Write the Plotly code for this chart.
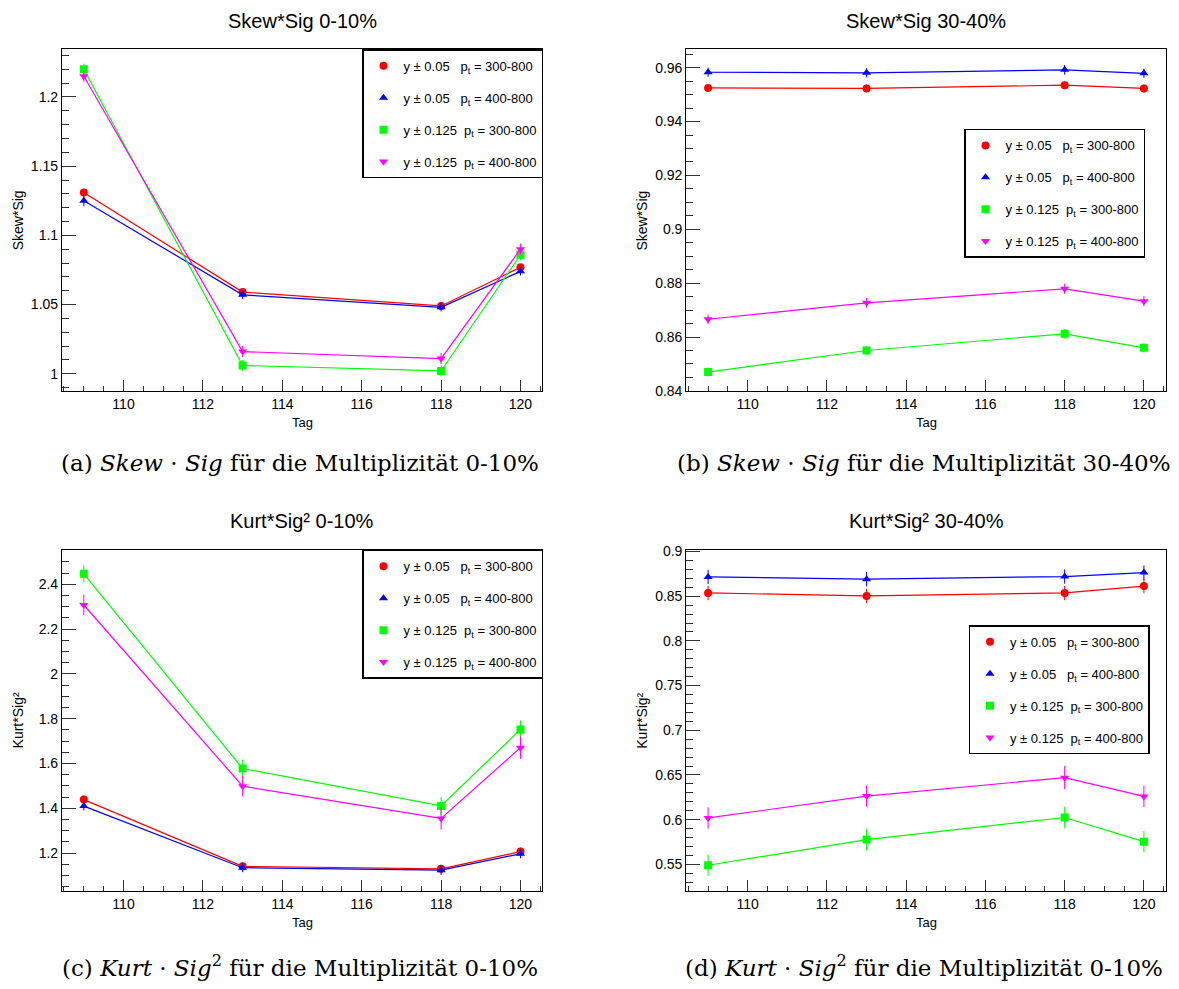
import plotly.graph_objects as go

# ---------------- data ----------------
tag = [109, 113, 118, 120]

series_names = [
    "y\u00a0\u00b1\u00a00.05\u00a0\u00a0\u00a0p<sub>t</sub>\u00a0=\u00a0300-800",
    "y\u00a0\u00b1\u00a00.05\u00a0\u00a0\u00a0p<sub>t</sub>\u00a0=\u00a0400-800",
    "y\u00a0\u00b1\u00a00.125\u00a0\u00a0p<sub>t</sub>\u00a0=\u00a0300-800",
    "y\u00a0\u00b1\u00a00.125\u00a0\u00a0p<sub>t</sub>\u00a0=\u00a0400-800",
]

# (a) Skew*Sig 0-10%
a_red = [1.131, 1.059, 1.049, 1.077]
a_blue = [1.125, 1.057, 1.048, 1.074]
a_green = [1.220, 1.006, 1.002, 1.086]
a_mag = [1.215, 1.016, 1.011, 1.090]
a_err_red = [0.002, 0.002, 0.002, 0.002]
a_err_blue = [0.004, 0.003, 0.003, 0.003]
a_err_green = [0.004, 0.004, 0.004, 0.004]
a_err_mag = [0.004, 0.004, 0.004, 0.004]

# (b) Skew*Sig 30-40%
b_red = [0.9525, 0.9523, 0.9535, 0.9523]
b_blue = [0.9583, 0.9581, 0.9592, 0.9579]
b_green = [0.8470, 0.8550, 0.8612, 0.8560]
b_mag = [0.8666, 0.8727, 0.8779, 0.8733]
b_err_red = [0.0015, 0.0015, 0.0015, 0.0015]
b_err_blue = [0.0017, 0.0017, 0.0018, 0.0017]
b_err_green = [0.0017, 0.0017, 0.0018, 0.0017]
b_err_mag = [0.0018, 0.0018, 0.0019, 0.0019]

# (c) Kurt*Sig^2 0-10%
c_red = [1.439, 1.141, 1.130, 1.207]
c_blue = [1.410, 1.135, 1.124, 1.197]
c_green = [2.447, 1.578, 1.411, 1.752]
c_mag = [2.308, 1.499, 1.355, 1.671]
c_err_red = [0.018, 0.018, 0.018, 0.018]
c_err_blue = [0.02, 0.02, 0.022, 0.02]
c_err_green = [0.038, 0.04, 0.04, 0.04]
c_err_mag = [0.046, 0.046, 0.05, 0.05]

# (d) Kurt*Sig^2 30-40%
d_red = [0.8536, 0.8503, 0.8536, 0.8613]
d_blue = [0.8716, 0.8690, 0.8720, 0.8764]
d_green = [0.5490, 0.5777, 0.6024, 0.5754]
d_mag = [0.6019, 0.6264, 0.6470, 0.6260]
d_err_red = [0.008, 0.008, 0.008, 0.008]
d_err_blue = [0.008, 0.008, 0.008, 0.008]
d_err_green = [0.012, 0.012, 0.012, 0.012]
d_err_mag = [0.012, 0.012, 0.013, 0.012]

panel_titles = ["Skew*Sig 0-10%", "Skew*Sig 30-40%", "Kurt*Sig\u00b2 0-10%", "Kurt*Sig\u00b2 30-40%"]
y_titles = ["Skew*Sig", "Skew*Sig", "Kurt*Sig\u00b2", "Kurt*Sig\u00b2"]
x_title = "Tag"
captions = [
    "(a) <i>Skew</i> \u00b7 <i>Sig</i> f\u00fcr die Multiplizit\u00e4t 0-10%",
    "(b) <i>Skew</i> \u00b7 <i>Sig</i> f\u00fcr die Multiplizit\u00e4t 30-40%",
    "(c) <i>Kurt</i> \u00b7 <i>Sig</i><sup>2</sup> f\u00fcr die Multiplizit\u00e4t 0-10%",
    "(d) <i>Kurt</i> \u00b7 <i>Sig</i><sup>2</sup> f\u00fcr die Multiplizit\u00e4t 0-10%",
]

panels = [
    ([a_red, a_blue, a_green, a_mag], [a_err_red, a_err_blue, a_err_green, a_err_mag]),
    ([b_red, b_blue, b_green, b_mag], [b_err_red, b_err_blue, b_err_green, b_err_mag]),
    ([c_red, c_blue, c_green, c_mag], [c_err_red, c_err_blue, c_err_green, c_err_mag]),
    ([d_red, d_blue, d_green, d_mag], [d_err_red, d_err_blue, d_err_green, d_err_mag]),
]

# ---------------- styling ----------------
W, H = 1179, 989
colors = ["#ff0000", "#0000ff", "#00ff00", "#ff00ff"]
symbols = ["circle", "triangle-up", "square", "triangle-down"]
sans = "Liberation Sans, Arial, Helvetica, sans-serif"
serif = "DejaVu Serif, Liberation Serif, serif"

def fx(p):
    return p / W

def fy(p):
    return 1 - p / H

# pixel boxes: (left, right, top, bottom)
boxes = [
    (62, 542.3, 44, 390.7),
    (686.3, 1165.7, 44, 390.7),
    (62, 542.3, 551.7, 897.7),
    (686.3, 1165.7, 551.7, 897.7),
]
y_ranges = [[0.9874, 1.2344], [0.8399, 0.9668], [1.031, 2.554], [0.5202, 0.9018]]
y_dticks = [0.05, 0.02, 0.2, 0.05]
y_minor = [0.01, 0.005, 0.05, 0.01]
legend_pos = [(362, 44), (964, 124.7), (362, 551.7), (968.5, 628.3)]

fig = go.Figure()

for i, (vals, errs) in enumerate(panels):
    ax = "" if i == 0 else str(i + 1)
    leg = "legend" if i == 0 else "legend%d" % (i + 1)
    for s in range(4):
        fig.add_trace(go.Scatter(
            x=tag, y=vals[s], mode="lines",
            line=dict(color=colors[s], width=1.2),
            xaxis="x" + ax, yaxis="y" + ax,
            showlegend=False, legend=leg, legendgroup="g%d_%d" % (i, s),
            hoverinfo="skip",
        ))
        fig.add_trace(go.Scatter(
            x=tag, y=vals[s], mode="markers",
            marker=dict(color=colors[s], symbol=symbols[s], size=8, line=dict(width=0)),
            error_y=dict(type="data", array=errs[s], color=colors[s], thickness=1, width=0),
            xaxis="x" + ax, yaxis="y" + ax,
            name=series_names[s], legend=leg, legendgroup="g%d_%d" % (i, s),
        ))

layout = dict(
    width=W, height=H,
    margin=dict(l=0, r=0, t=0, b=0),
    paper_bgcolor="white", plot_bgcolor="white",
    font=dict(family=sans, color="black", size=14),
    annotations=[],
)

for i in range(4):
    ax = "" if i == 0 else str(i + 1)
    l, r, t, b = boxes[i]
    layout["xaxis" + ax] = dict(
        domain=[fx(l), fx(r)], anchor="y" + ax, range=[108.45, 120.55],
        showgrid=False, zeroline=False, showline=True, linecolor="black", linewidth=1.2,
        mirror=True, ticks="inside", ticklen=11, tickwidth=1, tickcolor="#333",
        tick0=0, dtick=2, tickfont=dict(size=14, family=sans),
        minor=dict(ticks="inside", ticklen=5, tickwidth=1, tickcolor="#333", dtick=0.5, tick0=0, showgrid=False),
    )
    layout["yaxis" + ax] = dict(
        domain=[fy(b), fy(t)], anchor="x" + ax, range=y_ranges[i],
        showgrid=False, zeroline=False, showline=True, linecolor="black", linewidth=1.2,
        mirror=True, ticks="inside", ticklen=14, tickwidth=1, tickcolor="#333",
        tick0=0, dtick=y_dticks[i], tickfont=dict(size=14, family=sans),
        minor=dict(ticks="inside", ticklen=7, tickwidth=1, tickcolor="#333", dtick=y_minor[i], tick0=0, showgrid=False),
    )
    lx, ly = legend_pos[i]
    layout["legend" if i == 0 else "legend%d" % (i + 1)] = dict(
        x=fx(lx), y=fy(ly), xanchor="left", yanchor="top",
        bordercolor="black", borderwidth=1.5, bgcolor="white",
        font=dict(size=13, family=sans, color="black"),
        traceorder="grouped", tracegroupgap=12,
    )
    cx = (l + r) / 2
    cy = (t + b) / 2
    title_y = 15 if i < 2 else 522
    cap_y = 464 if i < 2 else 974
    tag_y = b + 32
    ann = layout["annotations"]
    ann.append(dict(text=panel_titles[i], x=fx(cx), y=fy(title_y), xref="paper", yref="paper",
                    xanchor="center", yanchor="middle", showarrow=False,
                    font=dict(size=20, family=sans, color="black")))
    ann.append(dict(text=y_titles[i], x=fx(l - 44), y=fy(cy), xref="paper", yref="paper",
                    xanchor="center", yanchor="middle", showarrow=False, textangle=-90,
                    font=dict(size=14, family=sans, color="black")))
    ann.append(dict(text=x_title, x=fx(cx), y=fy(tag_y), xref="paper", yref="paper",
                    xanchor="center", yanchor="middle", showarrow=False,
                    font=dict(size=13, family=sans, color="black")))
    ann.append(dict(text=captions[i], x=fx(cx - 2), y=fy(cap_y), xref="paper", yref="paper",
                    xanchor="center", yanchor="middle", showarrow=False,
                    font=dict(size=23, family=serif, color="black")))

fig.update_layout(**layout)
fig.write_html(
    "out.html",
    config={"displayModeBar": False},
    post_script="document.body.style.margin='0px';document.body.style.overflow='hidden';"
                "document.documentElement.style.overflow='hidden';",
)
